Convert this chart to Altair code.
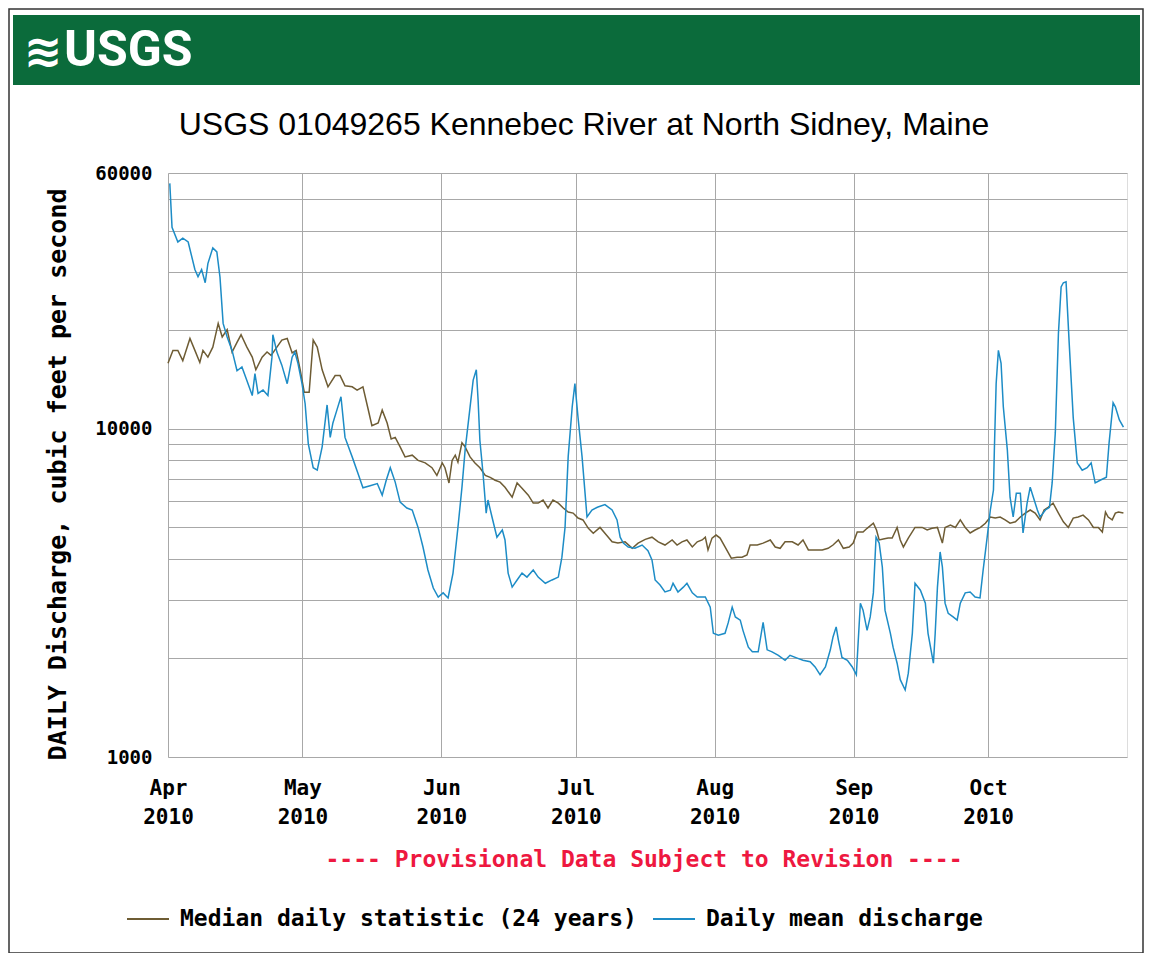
import altair as alt
import pandas as pd

# ---------------- data ----------------
# days since 2010-04-01 and discharge in cubic feet per second
mean_day = [0.4, 0.9, 2.2, 3.3, 4.5, 6.0, 6.7, 7.5, 8.3, 8.9, 10.0, 10.9, 11.6, 12.3, 13.2, 14.3, 15.4, 16.5,
            17.6, 18.8, 19.4, 20.1, 21.2, 22.3, 23.2, 23.4, 24.3, 25.4, 26.6, 27.7, 28.3, 29.0, 29.9, 30.6,
            31.3, 32.4, 33.3, 34.4, 35.5, 36.2, 36.8, 37.7, 38.6, 39.5, 41.1, 42.4, 43.5, 45.1, 46.7, 47.8,
            48.7, 49.6, 50.7, 51.8, 53.3, 54.5, 55.8, 56.9, 58.0, 59.2, 60.3, 61.4, 62.5, 63.6, 64.7, 65.6,
            66.3, 67.4, 68.1, 68.8, 69.2, 69.6, 70.3, 71.0, 71.4, 72.3, 73.4, 74.6, 75.2, 75.9, 76.8, 77.9,
            79.0, 80.1, 81.5, 82.6, 84.2, 85.7, 87.1, 87.9, 88.6, 89.3, 90.2, 90.8, 91.5, 92.4, 93.5, 94.6,
            95.8, 97.5, 99.1, 100.2, 100.9, 101.6, 102.7, 104.2, 105.8, 107.1, 108.0, 108.7, 109.8, 110.9,
            112.1, 112.7, 113.8, 115.0, 115.8, 117.0, 118.1, 119.9, 121.0, 121.7, 122.8, 124.3, 125.0, 125.9,
            126.6, 127.7, 128.3, 129.5, 130.4, 131.7, 132.8, 133.7, 134.8, 136.2, 137.7, 138.8, 140.4, 141.7,
            143.3, 144.4, 145.5, 146.7, 147.8, 148.4, 149.1, 149.6, 150.4, 151.6, 152.7, 153.6, 154.5, 155.1,
            156.0, 156.7, 157.4, 158.0, 158.7, 159.4, 160.0, 161.2, 161.8, 162.7, 163.4, 164.5, 165.2, 166.1,
            166.7, 167.9, 169.0, 169.6, 170.8, 171.2, 171.7, 172.3, 172.8, 173.4, 174.1, 175.2, 176.1, 176.8,
            177.9, 179.0, 180.1, 181.2, 181.9, 182.8, 183.5, 184.2, 184.4, 184.8, 185.3, 185.9, 186.4, 187.3,
            187.9, 188.6, 189.3, 190.2, 190.8, 191.7, 192.4, 193.1, 194.0, 194.6, 195.8, 196.7, 197.3, 198.0,
            198.7, 199.3, 199.8, 200.4, 201.1, 202.0, 202.9, 204.0, 205.1, 206.0, 206.9, 208.0, 209.4, 210.0,
            210.9, 211.4, 212.3, 213.2]
mean_cfs = [55800, 41000, 37000, 38000, 37000, 30500, 29000, 30500, 27800, 31800, 35500, 34500, 28900, 20900,
            19000, 17300, 15000, 15400, 14000, 12600, 14700, 12800, 13100, 12600, 16500, 19300, 17100, 15600,
            13700, 16500, 17100, 15800, 13700, 11900, 9000, 7600, 7470, 8800, 11800, 9400, 10400, 11400, 12500,
            9400, 8200, 7300, 6600, 6700, 6800, 6270, 6960, 7600, 6870, 5970, 5730, 5650, 5000, 4360, 3710,
            3270, 3070, 3160, 3050, 3630, 5000, 6630, 8600, 11600, 14050, 15100, 12200, 9200, 7300, 5530, 6060,
            5380, 4670, 4910, 4580, 3630, 3290, 3460, 3630, 3530, 3710, 3530, 3380, 3460, 3530, 4060, 5000,
            8200, 11650, 13700, 10800, 8200, 5380, 5650, 5760, 5870, 5650, 5270, 4670, 4480, 4360, 4320, 4420,
            4250, 3980, 3460, 3340, 3180, 3220, 3380, 3180, 3290, 3380, 3160, 3070, 3070, 2860, 2380, 2350,
            2380, 2560, 2860, 2670, 2610, 2430, 2160, 2090, 2090, 2570, 2120, 2090, 2040, 1970, 2040, 2000,
            1970, 1950, 1880, 1780, 1880, 2120, 2320, 2490, 2270, 2010, 1970, 1880, 1780, 2940, 2800, 2430,
            2670, 3160, 4670, 4480, 3790, 2800, 2380, 2160, 1930, 1720, 1600, 1800, 2380, 3380, 3220, 2940,
            2380, 1930, 2380, 3290, 4210, 3790, 2940, 2740, 2670, 2610, 2940, 3160, 3180, 3070, 3050, 3710,
            4670, 5650, 6500, 8600, 13700, 17300, 15800, 11650, 8600, 6180, 5380, 6350, 6350, 4810, 5920,
            6630, 6180, 5650, 5380, 5650, 5760, 6830, 9700, 19500, 27000, 27800, 28000, 18200, 10800, 7860,
            7470, 7600, 7860, 6830, 6960, 7110, 9040, 11980, 11650, 10620, 10100]

med_day = [0.0, 1.1, 2.2, 3.3, 4.9, 6.0, 7.1, 7.8, 8.9, 10.0, 11.2, 12.1, 13.2, 14.3, 15.4, 16.3, 17.6, 18.8,
           19.6, 21.0, 22.1, 23.0, 24.3, 25.4, 26.6, 27.7, 28.6, 29.5, 30.4, 31.5, 32.4, 33.3, 34.4, 35.7,
           37.3, 38.4, 39.5, 41.1, 42.2, 43.5, 44.6, 45.5, 46.9, 47.8, 48.9, 49.8, 50.7, 51.8, 52.9, 54.5,
           55.8, 57.4, 58.9, 60.0, 61.2, 61.8, 62.7, 63.4, 64.1, 64.7, 65.6, 66.3, 67.4, 68.5, 69.6, 70.8,
           71.9, 73.0, 74.1, 75.2, 76.8, 77.9, 79.0, 80.4, 81.5, 82.6, 83.7, 84.8, 85.9, 87.1, 88.2, 89.3,
           90.4, 91.5, 92.6, 93.8, 94.9, 96.4, 97.5, 99.1, 100.4, 102.0, 103.6, 104.9, 106.5, 108.0, 109.4,
           110.9, 112.5, 113.6, 114.7, 115.8, 117.0, 118.1, 119.2, 119.9, 120.5, 121.4, 122.3, 123.2, 124.3,
           125.7, 127.0, 128.1, 129.2, 129.9, 131.5, 132.8, 134.4, 135.5, 136.6, 137.7, 139.3, 140.6, 141.7,
           142.9, 144.4, 146.0, 147.3, 148.4, 149.6, 150.7, 152.0, 152.9, 153.8, 155.1, 156.0, 157.4, 158.1,
           158.7, 159.6, 160.7, 161.6, 162.7, 163.4, 164.1, 165.2, 166.7, 168.3, 169.4, 170.5, 171.7, 172.8,
           173.4, 174.6, 175.7, 176.8, 177.9, 179.0, 180.1, 181.3, 182.4, 183.5, 184.6, 185.7, 186.8, 187.9,
           189.1, 190.2, 191.3, 192.4, 193.5, 194.6, 195.5, 196.4, 197.5, 198.7, 199.8, 200.9, 202.0, 203.1,
           204.2, 205.4, 206.5, 207.6, 208.5, 209.2, 209.8, 210.7, 211.4, 212.1, 213.2]
med_cfs = [15800, 17300, 17300, 16100, 18800, 17300, 15900, 17300, 16500, 17700, 20900, 19000, 20000, 17100,
           18300, 19300, 17700, 16500, 15100, 16500, 17100, 16700, 17700, 18600, 18800, 17000, 17300, 15100,
           12900, 12900, 18600, 17700, 15100, 13400, 14500, 14500, 13500, 13400, 13100, 13400, 11550, 10200,
           10400, 11380, 10400, 9300, 9400, 8800, 8200, 8300, 8000, 7860, 7600, 7200, 7860, 7600, 6830, 8000,
           8300, 7900, 9050, 8800, 8200, 7860, 7600, 7200, 7100, 6960, 6870, 6630, 6180, 6830, 6580, 6270,
           5930, 5930, 6060, 5730, 6060, 5930, 5730, 5570, 5530, 5340, 5270, 4970, 4800, 5000, 4800, 4520,
           4480, 4520, 4320, 4480, 4600, 4670, 4520, 4420, 4580, 4420, 4520, 4580, 4360, 4520, 4580, 4670,
           4270, 4640, 4740, 4640, 4360, 4030, 4060, 4060, 4120, 4420, 4420, 4480, 4580, 4360, 4320, 4520,
           4520, 4420, 4580, 4270, 4270, 4270, 4320, 4420, 4580, 4320, 4360, 4480, 4840, 4840, 4970, 5150,
           4910, 4580, 4610, 4640, 4640, 5000, 4580, 4360, 4640, 5000, 5000, 4910, 4970, 5000, 4480, 5000,
           5080, 5000, 5270, 5000, 4810, 4910, 5000, 5150, 5380, 5340, 5380, 5270, 5150, 5200, 5380, 5530,
           5650, 5530, 5270, 5650, 5760, 5930, 5530, 5200, 5000, 5340, 5380, 5450, 5270, 5000, 5000, 4840,
           5570, 5380, 5270, 5530, 5570, 5530]

series_names = ["Median daily statistic (24 years)", "Daily mean discharge"]
series_colors = ["#6e5c34", "#1d8cc6"]
month_ticks = [4, 5, 6, 7, 8, 9, 10]
y_grid = [1000, 2000, 3000, 4000, 5000, 6000, 7000, 8000, 9000, 10000, 20000, 30000, 40000, 50000, 60000]
y_labels = [1000, 10000, 60000]

title_text = "USGS 01049265 Kennebec River at North Sidney, Maine"
notice_text = "---- Provisional Data Subject to Revision ----"
y_title = "DAILY Discharge, cubic feet per second"

# ---------------- table ----------------
start = pd.Timestamp("2010-04-01")
rows = []
for name, days, vals in [(series_names[0], med_day, med_cfs), (series_names[1], mean_day, mean_cfs)]:
    for d, v in zip(days, vals):
        rows.append({"date": start + pd.Timedelta(days=d), "cfs": v, "series": name})
df = pd.DataFrame(rows)

MONO = "DejaVu Sans Mono"
W, H = 959, 584

x_enc = alt.X(
    "date:T",
    scale=alt.Scale(domain=[alt.DateTime(year=2010, month=4, date=1),
                            alt.DateTime(year=2010, month=11, date=1)]),
    axis=alt.Axis(
        values=[alt.DateTime(year=2010, month=m, date=1) for m in month_ticks],
        labelExpr="[timeFormat(datum.value, '%b'), timeFormat(datum.value, '%Y')]",
        labelFont=MONO, labelFontWeight="bold", labelFontSize=21, labelColor="#000",
        labelLineHeight=29, labelPadding=20, labelBaseline="top",
        ticks=False, domain=False, grid=True, gridColor="#a8a8a8", gridWidth=1,
        title=None, labelFlush=False, labelOverlap=False,
    ),
)
y_enc = alt.Y(
    "cfs:Q",
    scale=alt.Scale(type="log", domain=[1000, 60000], nice=False),
    axis=alt.Axis(
        values=y_grid,
        labelExpr="indexof(%s, datum.value) >= 0 ? format(datum.value, 'd') : ''" % str(y_labels),
        labelFont=MONO, labelFontWeight="bold", labelFontSize=19, labelColor="#000",
        labelPadding=16, ticks=False, domain=False, grid=True, gridColor="#a8a8a8", gridWidth=1,
        title=y_title, titleFont=MONO, titleFontWeight="bold", titleFontSize=25, titleColor="#000",
        titlePadding=24, titleY=H / 2 + 9, labelOverlap=False,
    ),
)

lines = alt.Chart(df).mark_line(strokeWidth=1.5).encode(
    x=x_enc,
    y=y_enc,
    color=alt.Color(
        "series:N",
        scale=alt.Scale(domain=series_names, range=series_colors),
        legend=alt.Legend(
            orient="none", legendX=-42, legendY=724, direction="horizontal",
            title=None, symbolType="stroke", symbolSize=1764, symbolStrokeWidth=2,
            labelFont=MONO, labelFontWeight="bold", labelFontSize=23, labelColor="#000",
            labelLimit=700, columnPadding=12, labelOffset=10,
        ),
    ),
    detail="series:N",
)

header = alt.Chart(pd.DataFrame({"k": [0]})).mark_rect(color="#0b6b3b").encode(
    x=alt.value(-155), x2=alt.value(972), y=alt.value(-158), y2=alt.value(-88)
)
logo = alt.Chart(pd.DataFrame({"t": ["USGS"]})).mark_text(
    font="Roboto", fontWeight="bold", fontSize=50, color="white",
    align="left", baseline="middle"
).encode(x=alt.value(-104), y=alt.value(-122), text="t:N")
waves = alt.Chart(pd.DataFrame({"t": ["\u224b"]})).mark_text(
    font="DejaVu Sans", fontWeight="bold", fontSize=46, color="white",
    align="center", baseline="middle"
).encode(x=alt.value(-125), y=alt.value(-120), text="t:N")
title = alt.Chart(pd.DataFrame({"t": [title_text]})).mark_text(
    font="Liberation Sans", fontSize=32, color="#000", align="center", baseline="middle"
).encode(x=alt.value(416), y=alt.value(-48), text="t:N")
notice = alt.Chart(pd.DataFrame({"t": [notice_text]})).mark_text(
    font=MONO, fontWeight="bold", fontSize=23, color="#ee1840", align="center", baseline="middle"
).encode(x=alt.value(476), y=alt.value(687), text="t:N")
frame = alt.Chart(pd.DataFrame({"k": [0]})).mark_rect(fill=None, stroke="#333", strokeWidth=1.5).encode(
    x=alt.value(-159), x2=alt.value(975), y=alt.value(-164), y2=alt.value(780)
)

chart = alt.layer(frame, header, waves, logo, title, notice, lines).properties(
    width=W, height=H,
    autosize=alt.AutoSizeParams(type="none"),
    padding={"left": 160, "top": 165, "right": 17, "bottom": 196},
).configure_view(
    stroke="#1a1a1a", strokeWidth=2
).configure(background="white")

chart.save("out.html", embed_options={"renderer": "svg", "actions": False})
